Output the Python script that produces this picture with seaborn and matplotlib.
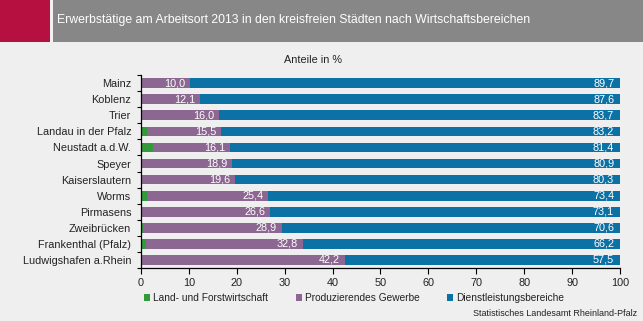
import matplotlib
matplotlib.use("Agg")
import matplotlib.pyplot as plt
import seaborn as sns
import pandas as pd
import numpy as np
from matplotlib.patches import Rectangle, Patch

cities = ["Mainz", "Koblenz", "Trier", "Landau in der Pfalz", "Neustadt a.d.W.", "Speyer",
          "Kaiserslautern", "Worms", "Pirmasens", "Zweibrücken", "Frankenthal (Pfalz)",
          "Ludwigshafen a.Rhein"]
land = [0.3, 0.3, 0.3, 1.3, 2.5, 0.2, 0.1, 1.2, 0.3, 0.5, 1.0, 0.3]
produz = [10.0, 12.1, 16.0, 15.5, 16.1, 18.9, 19.6, 25.4, 26.6, 28.9, 32.8, 42.2]
dienst = [89.7, 87.6, 83.7, 83.2, 81.4, 80.9, 80.3, 73.4, 73.1, 70.6, 66.2, 57.5]
series_names = ["Land- und Forstwirtschaft", "Produzierendes Gewerbe", "Dienstleistungsbereiche"]
xticks = [0, 10, 20, 30, 40, 50, 60, 70, 80, 90, 100]

GREEN = "#339a3a"
PURPLE = "#8c6791"
BLUE = "#0c72a6"
BG = "#eeefee"
FS = 7.8

sns.set_theme(style="white")
plt.rcParams["font.family"] = ["Liberation Sans", "DejaVu Sans"]

df = pd.DataFrame({"city": cities, "land": land, "produz": produz, "dienst": dienst})
df["c1"] = df["land"]
df["c2"] = df["land"] + df["produz"]
df["c3"] = df["land"] + df["produz"] + df["dienst"]

fig = plt.figure(figsize=(6.43, 3.21), dpi=100, facecolor=BG)
ax = fig.add_axes([0.2193, 0.165, 0.7449, 0.601])
ax.set_facecolor(BG)

for col, color in [("c3", BLUE), ("c2", PURPLE), ("c1", GREEN)]:
    sns.barplot(data=df, x=col, y="city", orient="h", color=color, width=0.6,
                saturation=1, ax=ax, edgecolor="none", linewidth=0)

def fmt(v):
    return f"{v:.1f}".replace(".", ",")

for i, row in df.iterrows():
    ax.text(row["c2"] - 1.0, i, fmt(row["produz"]), ha="right", va="center",
            color="white", fontsize=FS)
    ax.text(row["c3"] - 1.2, i, fmt(row["dienst"]), ha="right", va="center",
            color="white", fontsize=FS)

ax.set_xlim(0, 100)
ax.set_ylim(len(cities) - 0.5, -0.5)
ax.set_xticks(xticks)
ax.set_xticklabels([str(t) for t in xticks], fontsize=FS, color="#222222")
ax.set_yticks(np.arange(len(cities)))
ax.set_yticklabels(cities, fontsize=FS, color="#222222")
ax.tick_params(axis="y", length=0, pad=7)
ax.tick_params(axis="x", length=4, width=0.8, color="black", direction="out", bottom=True, pad=3)
ax.set_yticks(np.arange(-0.5, len(cities), 1.0), minor=True)
ax.tick_params(axis="y", which="minor", length=3, width=0.8, color="black", left=True)
ax.set_xlabel("")
ax.set_ylabel("")
for s in ["top", "right"]:
    ax.spines[s].set_visible(False)
for s in ["left", "bottom"]:
    ax.spines[s].set_visible(True)
    ax.spines[s].set_color("black")
    ax.spines[s].set_linewidth(0.9)

# header
fig.patches.append(Rectangle((0, 1 - 42 / 321), 1, 42 / 321, transform=fig.transFigure,
                             facecolor="#878787", edgecolor="none", zorder=0))
fig.patches.append(Rectangle((0, 1 - 42 / 321), 50 / 643, 42 / 321, transform=fig.transFigure,
                             facecolor="#b5103f", edgecolor="none", zorder=1))
fig.patches.append(Rectangle((50 / 643, 1 - 42 / 321), 2.5 / 643, 42 / 321, transform=fig.transFigure,
                             facecolor="#f2f2f2", edgecolor="none", zorder=1))
fig.text(57 / 643, 1 - 20 / 321, "Erwerbstätige am Arbeitsort 2013 in den kreisfreien Städten nach Wirtschaftsbereichen",
         ha="left", va="center", color="white", fontsize=8.8)
fig.text(313 / 643, 1 - 60 / 321, "Anteile in %", ha="center", va="center", fontsize=FS, color="#222222")

handles = [Patch(facecolor=c, edgecolor="none") for c in (GREEN, PURPLE, BLUE)]
leg = fig.legend(handles, series_names, ncol=3, loc="center left",
                 bbox_to_anchor=(135 / 643, 1 - 298 / 321), frameon=False,
                 fontsize=7.3, handlelength=0.6, handleheight=0.6, handletextpad=0.3,
                 columnspacing=2.7)
for t in leg.get_texts():
    t.set_color("#222222")
fig.text(637 / 643, 1 - 313 / 321, "Statistisches Landesamt Rheinland-Pfalz", ha="right", va="center",
         fontsize=6.5, color="#222222")

fig.savefig("out.png", dpi=100, facecolor=BG)
